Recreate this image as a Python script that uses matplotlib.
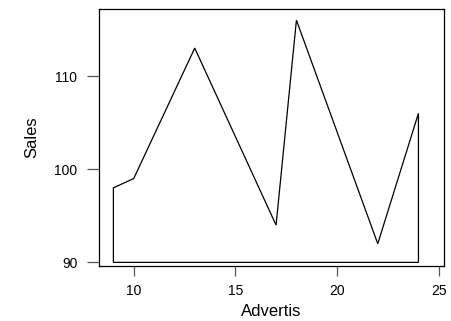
import matplotlib
matplotlib.use("Agg")
import matplotlib.pyplot as plt

# Polygon outline of Sales against Advertising spend
advertis = [9, 9, 10, 13, 17, 18, 22, 24, 24]
sales = [90, 98, 99, 113, 94, 116, 92, 106, 90]

x_ticks = [10, 15, 20, 25]
y_ticks = [90, 100, 110]

plt.rcParams["font.family"] = ["Liberation Sans", "DejaVu Sans"]

fig = plt.figure(figsize=(4.52, 3.21), dpi=100)
ax = fig.add_axes([0.218, 0.171, 0.764, 0.801])

ax.fill(advertis, sales, facecolor="none", edgecolor="black", linewidth=0.9)

ax.set_xlim(8.27, 25.25)
ax.set_ylim(89.6, 117.2)
ax.set_xticks(x_ticks)
ax.set_yticks(y_ticks)
ax.tick_params(axis="both", labelsize=10, color="#555555", width=0.9)
ax.tick_params(axis="y", length=8.3, pad=7)
ax.tick_params(axis="x", length=7, pad=6)

for sp in ax.spines.values():
    sp.set_linewidth(0.9)
    sp.set_color("black")

ax.set_xlabel("Advertis", fontsize=12, labelpad=4)
ax.set_ylabel("Sales", fontsize=12, labelpad=11)

fig.savefig("out.png", dpi=100)
